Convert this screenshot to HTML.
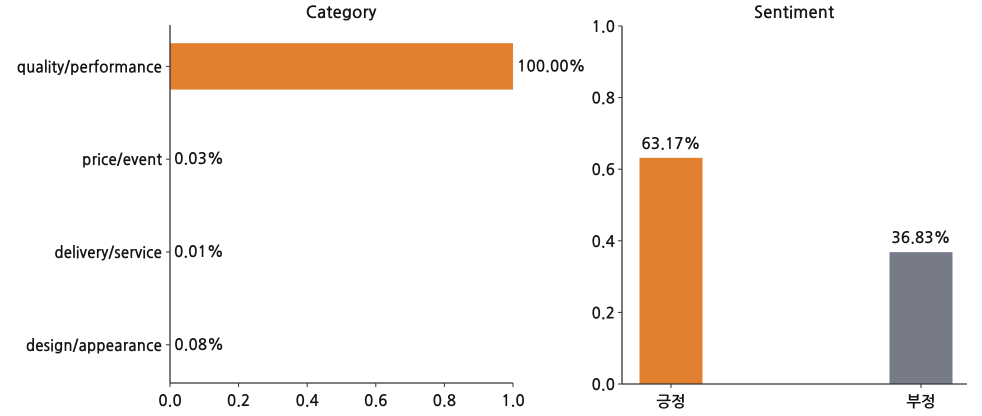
<!DOCTYPE html>
<html><head><meta charset="utf-8">
<style>
html,body{margin:0;padding:0;background:#fff;}
svg{display:block;font-family:"NanumGothic","Liberation Sans","Noto Sans CJK KR",sans-serif;}
text{font-weight:600;}
</style></head>
<body>
<svg id="c" width="982" height="416" xmlns="http://www.w3.org/2000/svg"></svg>
<script>
const catLabels=["quality/performance","price/event","delivery/service","design/appearance"];
const catValues=[1.0,0.0003,0.0001,0.0008];
const catText=["100.00%","0.03%","0.01%","0.08%"];
const xTicks=[0,0.2,0.4,0.6,0.8,1.0];
const xTickLabels=["0.0","0.2","0.4","0.6","0.8","1.0"];
const sentLabels=["긍정","부정"];
const sentValues=[0.6317,0.3683];
const sentText=["63.17%","36.83%"];
const yTicks=[0,0.2,0.4,0.6,0.8,1.0];
const yTickLabels=["0.0","0.2","0.4","0.6","0.8","1.0"];

const svg=document.getElementById('c');
const NS="http://www.w3.org/2000/svg";
function mk(t,a,name,txt){const e=document.createElementNS(NS,t);for(const k in a)e.setAttribute(k,a[k]);


if(txt!==undefined)e.textContent=txt;svg.appendChild(e);return e;}
const ax="#333";
const FS=15.5, tc="#151515";
const L={x0:170,x1:513,top:25,bot:383,rowTop:20,rowH:92.8};
const lx=v=>L.x0+v*(L.x1-L.x0);
const ly=i=>L.rowTop+L.rowH*(i+0.5);
mk('text',{x:341,y:18,'text-anchor':'middle','font-size':17,fill:tc},'left-chart-title','Category');
catValues.forEach((v,i)=>{
  const h=L.rowH*0.5;
  mk('rect',{x:lx(0),y:ly(i)-h/2,width:lx(v)-lx(0),height:h,fill:'#E3802F'},'bar-'+catLabels[i].replace('/','-'));
  mk('text',{x:lx(v)+4,y:ly(i)+5,'font-size':FS,fill:tc},'value-label',catText[i]);
  mk('line',{x1:L.x0-4,x2:L.x0,y1:ly(i),y2:ly(i),stroke:ax,'stroke-width':1},'y-tick');
  mk('text',{x:L.x0-8,y:ly(i)+6,'text-anchor':'end','font-size':FS,fill:tc},'y-tick-label',catLabels[i]);
});
mk('line',{x1:L.x0,x2:L.x0,y1:L.top,y2:L.bot,stroke:ax,'stroke-width':1.3},'y-axis-line');
mk('line',{x1:L.x0,x2:L.x1,y1:L.bot,y2:L.bot,stroke:ax,'stroke-width':1.3},'x-axis-line');
xTicks.forEach((t,i)=>{
  mk('line',{x1:lx(t),x2:lx(t),y1:L.bot,y2:L.bot+4,stroke:ax,'stroke-width':1},'x-tick');
  mk('text',{x:lx(t),y:L.bot+23,'text-anchor':'middle','font-size':FS,fill:tc},'x-tick-label',xTickLabels[i]);
});
const R={x0:622,x1:967,top:26,bot:384};
const ry=v=>R.bot-v*(R.bot-R.top);
const centers=[671,921];
const colors=['#E3802F','#767B87'];
mk('text',{x:794,y:18,'text-anchor':'middle','font-size':17,fill:tc},'right-chart-title','Sentiment');
sentValues.forEach((v,i)=>{
  const w=63,cx=centers[i];
  mk('rect',{x:cx-w/2,y:ry(v),width:w,height:ry(0)-ry(v),fill:colors[i]},'bar-'+(i?'negative':'positive'));
  mk('text',{x:cx,y:ry(v)-9,'text-anchor':'middle','font-size':FS,fill:tc},'value-label',sentText[i]);
  mk('line',{x1:cx,x2:cx,y1:R.bot,y2:R.bot+4,stroke:ax,'stroke-width':1},'x-tick');
  mk('text',{x:cx,y:R.bot+23,'text-anchor':'middle','font-size':FS,fill:tc},'x-tick-label',sentLabels[i]);
});
mk('line',{x1:R.x0,x2:R.x0,y1:R.top,y2:R.bot,stroke:ax,'stroke-width':1.3},'y-axis-line');
mk('line',{x1:R.x0,x2:R.x1,y1:R.bot,y2:R.bot,stroke:ax,'stroke-width':1.3},'x-axis-line');
yTicks.forEach((t,i)=>{
  mk('line',{x1:R.x0-4,x2:R.x0,y1:ry(t),y2:ry(t),stroke:ax,'stroke-width':1},'y-tick');
  mk('text',{x:R.x0-7,y:ry(t)+6,'text-anchor':'end','font-size':FS,fill:tc},'y-tick-label',yTickLabels[i]);
});
</script>
</body></html>
